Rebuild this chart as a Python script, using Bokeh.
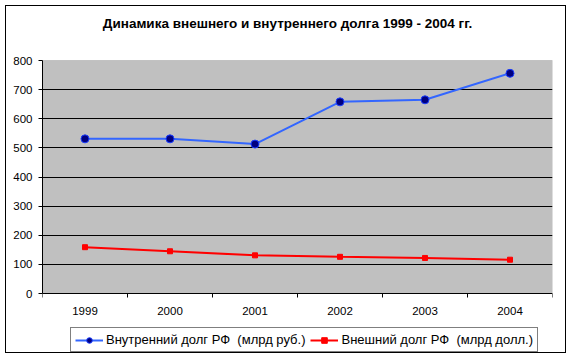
from bokeh.plotting import figure
from bokeh.models import FixedTicker, Range1d, Legend, LegendItem, BoxAnnotation, Label
from bokeh.embed import file_html
from bokeh.resources import INLINE

title = "Динамика внешнего и внутреннего долга 1999 - 2004 гг."
years = ["1999", "2000", "2001", "2002", "2003", "2004"]
internal_debt = [531, 531, 513, 658, 665, 756]
external_debt = [159, 145, 131, 126, 122, 116]
y_ticks = [0, 100, 200, 300, 400, 500, 600, 700, 800]
label_internal = "Внутренний долг РФ  (млрд руб.)"
label_external = "Внешний долг РФ  (млрд долл.)"

# layout (pixels inside the bordered canvas)
W, H = 561, 348
PLOT_TOP, PLOT_BOTTOM = 54, 287
y_min, y_max = y_ticks[0], y_ticks[-1]
scale = (PLOT_BOTTOM - PLOT_TOP) / (y_max - y_min)
y_lo = y_min - (H - PLOT_BOTTOM) / scale
y_hi = y_max + PLOT_TOP / scale

xs = [i + 0.5 for i in range(len(years))]
bounds = list(range(len(years) + 1))

FONT = "Liberation Sans"

p = figure(width=W, height=H, output_backend="svg", toolbar_location=None,
           x_range=Range1d(0, len(years)), y_range=Range1d(y_lo, y_hi),
           min_border_left=36, min_border_right=15, min_border_top=0, min_border_bottom=0)
p.styles = {"border": "1px solid black", "margin": "5px"}

p.background_fill_color = "white"
p.border_fill_color = "white"
p.outline_line_color = None

plot_area = BoxAnnotation(left=0, right=len(years), bottom=y_min, top=y_max,
                          fill_color="#C0C0C0", fill_alpha=1,
                          line_color="#808080", line_width=1, level="image")
p.add_layout(plot_area)

p.xgrid.visible = False
p.ygrid.ticker = FixedTicker(ticks=y_ticks[1:-1])
p.ygrid.grid_line_color = "black"
p.ygrid.grid_line_width = 1

p.xaxis.fixed_location = y_min
p.xaxis.ticker = FixedTicker(ticks=xs, minor_ticks=bounds)
p.xaxis.major_label_overrides = {x: y for x, y in zip(xs, years)}
p.xaxis.major_tick_in = 0
p.xaxis.major_tick_out = 0
p.xaxis.minor_tick_in = 0
p.xaxis.minor_tick_out = 4
p.xaxis.minor_tick_line_color = "black"
p.xaxis.major_label_standoff = 9

p.yaxis.bounds = (y_min, y_max)
p.yaxis.ticker = FixedTicker(ticks=y_ticks)
p.yaxis.major_tick_in = 0
p.yaxis.major_tick_out = 4
p.yaxis.minor_tick_line_color = None
p.yaxis.major_label_standoff = 6

for ax in (p.xaxis, p.yaxis):
    ax.axis_line_color = "black"
    ax.major_tick_line_color = "black"
    ax.major_label_text_font = FONT
    ax.major_label_text_font_size = "11.5px"
    ax.major_label_text_color = "black"

l1 = p.line(xs, internal_debt, line_color="#3366FF", line_width=2)
m1 = p.scatter(xs, internal_debt, marker="circle", size=8, fill_color="#000080",
               line_color="#1a3cff", line_width=1)
l2 = p.line(xs, external_debt, line_color="#FF0000", line_width=2)
m2 = p.scatter(xs, external_debt, marker="square", size=5, fill_color="#FF0000",
               line_color="#FF0000", line_width=1)

title_label = Label(x=len(years) / 2, y=y_max, x_offset=-10, y_offset=37.5, text=title,
                    text_font=FONT, text_font_size="13.5px", text_font_style="bold",
                    text_color="black", text_align="center", text_baseline="middle")
p.add_layout(title_label)

legend = Legend(items=[LegendItem(label=label_internal, renderers=[l1, m1]),
                       LegendItem(label=label_external, renderers=[l2, m2])],
                orientation="horizontal", location=(28, 2))
legend.border_line_color = "black"
legend.border_line_width = 1
legend.background_fill_color = "white"
legend.background_fill_alpha = 1
legend.label_text_font = FONT
legend.label_text_font_size = "13px"
legend.label_text_color = "black"
legend.glyph_width = 28
legend.glyph_height = 14
legend.label_height = 14
legend.label_standoff = 3
legend.padding = 4
legend.spacing = 5
legend.margin = 0
p.add_layout(legend, "center")

open("out.html", "w").write(file_html(p, INLINE))
